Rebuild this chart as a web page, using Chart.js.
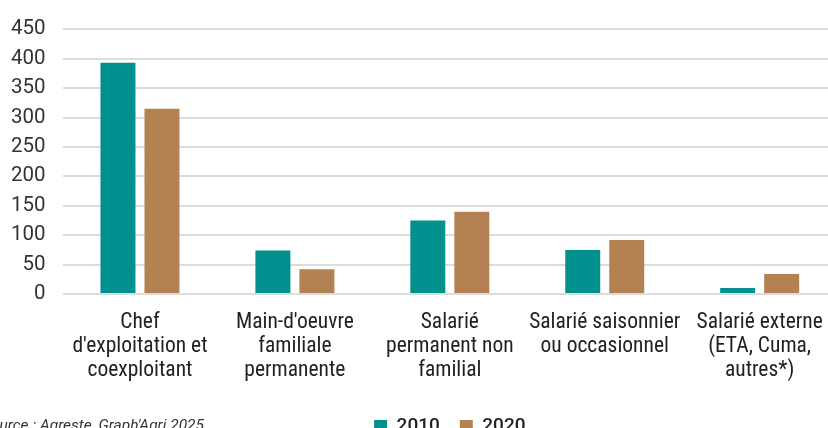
<!DOCTYPE html>
<html lang="fr">
<head>
    <meta charset="UTF-8">
    <title>Travail agricole par catégorie de main-d'oeuvre, 2010 et 2020</title>
    <script src="https://cdn.jsdelivr.net/npm/chart.js"></script>
    <style>
        html, body {
            margin: 0;
            padding: 0;
            background: #fff;
            overflow: hidden;
        }
        #wrap {
            width: 828px;
            height: 428px;
            overflow: hidden;
        }
        #wrap div {
            width: 840px;
            height: 446px;
        }
    </style>
</head>
<body>
    <div id="wrap"><div><canvas id="chart"></canvas></div></div>

    <script>
        // Catégories (libellés sur plusieurs lignes)
        const categories = [
            ["Chef", "d'exploitation et", "coexploitant"],
            ["Main-d'oeuvre", "familiale", "permanente"],
            ["Salarié", "permanent non", "familial"],
            ["Salarié saisonnier", "ou occasionnel"],
            ["Salarié externe", "(ETA, Cuma,", "autres*)"],
        ];

        const years = ["2010", "2020"];
        const values2010 = [393, 74, 125, 75, 10];
        const values2020 = [315, 42, 140, 92, 34];

        const yTicks = [0, 50, 100, 150, 200, 250, 300, 350, 400, 450];

        const teal = '#00918f';
        const brown = '#b48252';

        const condensed = "'Roboto Condensed', 'Liberation Sans Narrow', 'DejaVu Sans Condensed', Roboto, sans-serif";

        // source en bas à gauche (coupée par le bord)
        const sourcePlugin = {
            id: 'source',
            afterDraw(chart) {
                const ctx = chart.ctx;
                ctx.save();
                ctx.font = "italic 15.5px Roboto, sans-serif";
                ctx.fillStyle = '#333';
                ctx.textAlign = 'left';
                ctx.textBaseline = 'alphabetic';
                ctx.fillText("Source : Agreste, Graph'Agri 2025", -18, 430);
                ctx.restore();
            }
        };

        new Chart(document.getElementById('chart'), {
            type: 'bar',
            data: {
                labels: categories,
                datasets: [
                    { label: years[0], data: values2010, backgroundColor: teal },
                    { label: years[1], data: values2020, backgroundColor: brown },
                ],
            },
            options: {
                responsive: true,
                maintainAspectRatio: false,
                animation: false,
                categoryPercentage: 0.568,
                barPercentage: 0.795,
                layout: { padding: { top: 25, right: 2.5, left: 0, bottom: 0 } },
                plugins: {
                    tooltip: { enabled: false },
                    legend: {
                        position: 'bottom',
                        fullSize: false,
                        labels: {
                            boxWidth: 13,
                            boxHeight: 13,
                            padding: 20,
                            color: '#222',
                            font: { family: 'Roboto, sans-serif', size: 19, weight: '500' },
                        },
                    },
                },
                scales: {
                    x: {
                        grid: { display: false, drawTicks: false },
                        border: { display: false },
                        ticks: {
                            autoSkip: false,
                            maxRotation: 0,
                            padding: 17,
                            color: '#222',
                            font: { family: condensed, size: 21.5, lineHeight: 1.1 },
                        },
                        afterFit(scale) { scale.height = 103; },
                    },
                    y: {
                        min: 0,
                        max: 450,
                        afterBuildTicks(scale) {
                            scale.ticks = yTicks.map(v => ({ value: v }));
                        },
                        afterFit(scale) { scale.width = 62.5; },
                        grid: { color: '#dcdcdc', lineWidth: 2, drawTicks: false },
                        border: { display: false },
                        ticks: {
                            padding: 17,
                            color: '#333',
                            font: { family: 'Roboto, sans-serif', size: 20.5 },
                        },
                    },
                },
            },
            plugins: [sourcePlugin],
        });
    </script>
</body>
</html>
